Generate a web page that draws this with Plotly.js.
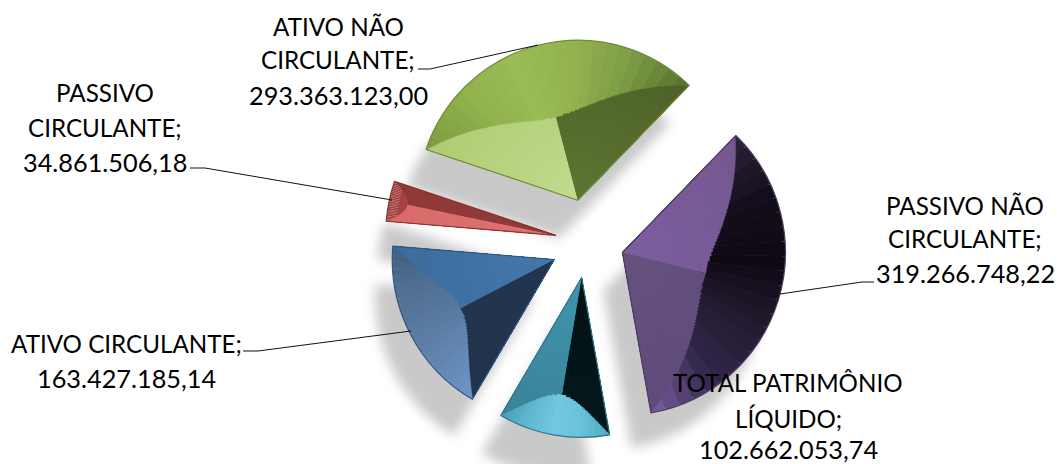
<!DOCTYPE html>
<html><head><meta charset="utf-8">
<script src="https://cdn.plot.ly/plotly-3.0.1.min.js"></script>
<style>html,body{margin:0;padding:0;background:#fff;overflow:hidden;width:1057px;height:464px}
#wrap{width:1057px;height:464px;overflow:hidden}</style></head>
<body><div id="wrap"><div id="chart"></div></div>
<script>
// ---- data (clockwise from the green slice)
const categories = ["ATIVO NÃO CIRCULANTE","PASSIVO NÃO CIRCULANTE","TOTAL PATRIMÔNIO LÍQUIDO","ATIVO CIRCULANTE","PASSIVO CIRCULANTE"];
const seriesValues = [293363123.00, 319266748.22, 102662053.74, 163427185.14, 34861506.18];

// ---- label text
const labelTexts = [
  ["ATIVO NÃO","CIRCULANTE;","293.363.123,00"],
  ["PASSIVO NÃO","CIRCULANTE;","319.266.748,22"],
  ["TOTAL PATRIMÔNIO","LÍQUIDO;","102.662.053,74"],
  ["ATIVO CIRCULANTE;","163.427.185,14"],
  ["PASSIVO","CIRCULANTE;","34.861.506,18"]
];

// ---- layout / style
const W=1057, H=600, CX=588, CY=242, R=160, START=-71.5;
const explode=[43,36,36,38,33];
const sliceR=[160,163,160,162,170];
const ridgeR=[87,86,120,106,152];
const ridgeAngle=[-14.7,104,189.6,242.5,281.7];
const baseColors=["#93b550","#3a2c4e","#5fb8d0","#56799f","#a34442"];
const edgeColors=["#6f8a3c","#4d3c66","#31768c","#2f5580","#8a3432"];
const startFacet=[["#c2dc8e","#aecb72"],["#7d5ea0","#74578f"],["#021013","#04191d"],["#22354f","#22344d"],["#de7472","#d96a68"]];
const endFacet=[["#5e7632","#4d6128"],["#66527f","#5f4b7a"],["#3f96ac","#3b8299"],["#4477ab","#3d6c9e"],["#8f3a38","#8f3a38"]];
const arcStops=[
  ["#7d9c42","#8fb04c","#9abc55","#93b24f","#7e9c45","#55702e"],
  ["#2c2238","#120d1a","#0e0a14","#241a30","#32264a","#7a5ea0"],
  ["#4fa9c1","#6ac2da","#72c9e0","#62b8d2","#4a9db6"],
  ["#6e95ca","#6487b3","#5a7a9f","#4f6f93","#3f5f82"],
  ["#a34442","#a34442"]
];
const FONT_WORD={family:"Lato, Carlito, sans-serif",size:24.2,color:"#000"};
const FONT_NUM={family:"Lato, Carlito, sans-serif",size:25.3,color:"#000"};
const SHADOW_DX=-19, SHADOW_DY=38;

// ---- helpers
const total=seriesValues.reduce((a,b)=>a+b,0);
const spans=seriesValues.map(v=>v/total*360);
let acc=START; const a0=[],a1=[];
spans.forEach(s=>{a0.push(acc);acc+=s;a1.push(acc);});
const hex=c=>[1,3,5].map(i=>parseInt(c.substr(i,2),16));
const mix=(a,b,t)=>{const x=hex(a),y=hex(b);return "rgb("+x.map((v,i)=>Math.round(v+(y[i]-v)*t)).join(",")+")";};
const ramp=(st,t)=>{const p=t*(st.length-1),i=Math.min(Math.floor(p),st.length-2);return mix(st[i],st[i+1],p-i);};
const CLEAR="rgba(0,0,0,0)";
const maxExplode=Math.max(...explode);
function domAt(h,cx,cy){return {x:[(cx-h)/W,(cx+h)/W],y:[1-(cy+h)/H,1-(cy-h)/H]};}
const base={type:"pie",sort:false,direction:"clockwise",textinfo:"none",hoverinfo:"skip",showlegend:false};
function whole(values,colors,cx,cy){
  return Object.assign({},base,{values:values,rotation:START,domain:domAt(R+maxExplode,cx,cy),
    pull:explode.map(d=>d/R),marker:{colors:colors,line:{width:0}}});
}
// one slice's overlay: sectors share the slice's own apex
function overlay(i,r,values,colors,line){
  const m=(a0[i]+a1[i])/2*Math.PI/180;
  const ax=CX+explode[i]*Math.sin(m), ay=CY-explode[i]*Math.cos(m);
  const used=values.reduce((a,b)=>a+b,0);
  return Object.assign({},base,{values:values.concat([360-used]),rotation:a0[i],domain:domAt(r,ax,ay),
    marker:{colors:colors.concat([CLEAR]),line:line||{width:0}}});
}
const traces=[];
traces.push(whole(seriesValues,seriesValues.map(()=>"#c9c9c9"),CX+SHADOW_DX,CY+SHADOW_DY));
traces.push(Object.assign(whole(seriesValues,baseColors,CX,CY),{labels:categories}));
// arc facet, shaded along the arc
spans.forEach((s,i)=>{const M=24,vals=[],cols=[];
  for(let k=0;k<M;k++){vals.push(s/M);cols.push(ramp(arcStops[i],(k+.5)/M));}
  traces.push(overlay(i,sliceR[i],vals,cols));
});
// side facets, painted outside-in: fine steps where the facet narrows, coarse near the apex
spans.forEach((s,i)=>{
  const Ri=sliceR[i], q=ridgeAngle[i];
  for(let r=Ri-0.5;r>=4;r-=(r>ridgeR[i]?1.5:8)){
    const t=r<=ridgeR[i]?0:Math.sqrt((r-ridgeR[i])/(Ri-ridgeR[i]));
    const aL=q+(a0[i]-q)*t, aR=q+(a1[i]-q)*t, u=r/Ri;
    traces.push(overlay(i,r,[aL-a0[i],aR-aL,a1[i]-aR],
      [mix(startFacet[i][0],startFacet[i][1],u),CLEAR,mix(endFacet[i][0],endFacet[i][1],u)]));
  }
});
// outlines
spans.forEach((s,i)=>traces.push(overlay(i,sliceR[i],[s],[CLEAR],{color:[edgeColors[i],CLEAR],width:1.2})));

// ---- labels
const labelX=[338,965,788,126,105];
const labelY=[[26,60,95],[205,238,273],[382,418,449],[343,378],[92,127,162]];
const annotations=[];
labelTexts.forEach((lines,i)=>lines.forEach((t,j)=>annotations.push({
  xref:"paper",yref:"paper",x:labelX[i]/W,y:1-labelY[i][j]/H,xanchor:"center",yanchor:"middle",
  showarrow:false,text:t,font:/^[0-9]/.test(t)?FONT_NUM:FONT_WORD})));
// leader lines
const leaders=[
  [[418,69],[430,69],[538,45]],
  [[874,282],[862,282],[780,294]],
  [[243,351],[258,351],[411,331]],
  [[190,168],[205,168],[392,200]]
];
const shapes=[];
leaders.forEach(p=>{for(let k=0;k<p.length-1;k++)shapes.push({type:"line",xref:"paper",yref:"paper",
  x0:p[k][0]/W,y0:1-p[k][1]/H,x1:p[k+1][0]/W,y1:1-p[k+1][1]/H,line:{color:"#111",width:1}});});

Plotly.newPlot("chart",traces,{width:W,height:H,margin:{l:0,r:0,t:0,b:0},paper_bgcolor:"#fff",
  showlegend:false,annotations:annotations,shapes:shapes},{displayModeBar:false,staticPlot:true}).then(gd=>{
  const layer=gd.querySelector(".pielayer");
  if(layer) layer.style.filter="blur(0.6px)";
  const first=gd.querySelector(".pielayer .trace");
  if(first) first.style.filter="blur(6px)";
});
</script></body></html>
